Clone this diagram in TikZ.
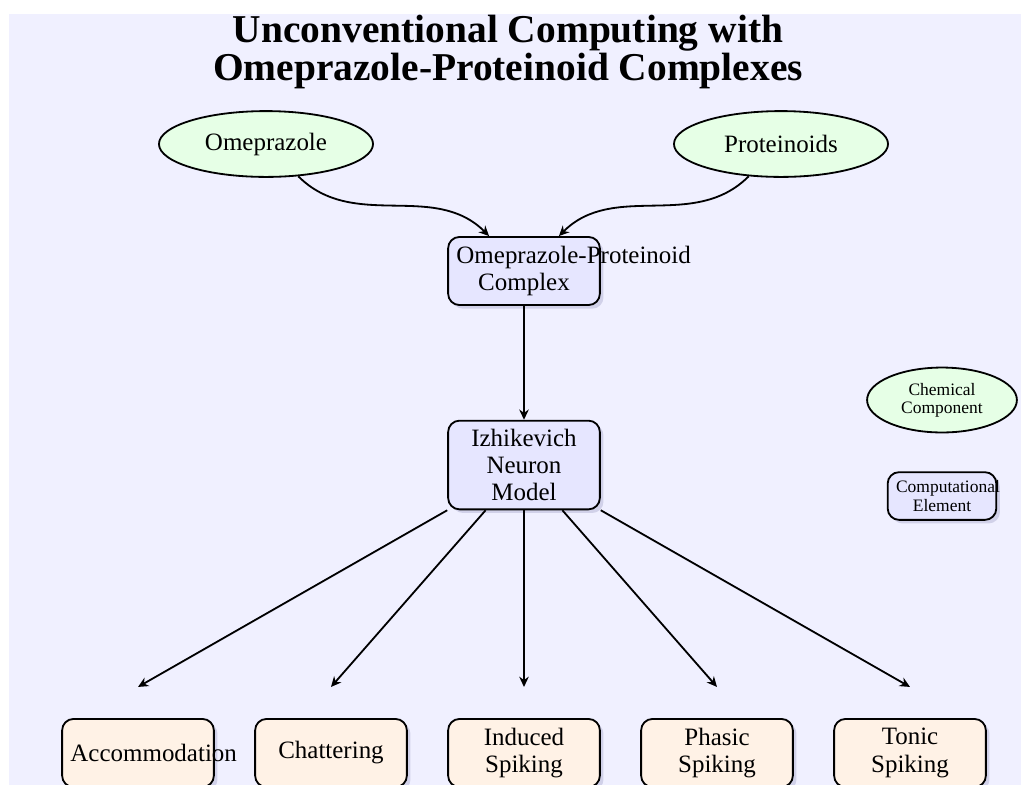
\documentclass[tikz,border=0pt]{standalone}
\usepackage{fontspec}
\setmainfont[Scale=1.1]{Liberation Serif}
\usetikzlibrary{shapes.geometric,shadows,arrows.meta,calc}
\definecolor{bgc}{RGB}{240,240,255}
\definecolor{chemfill}{RGB}{230,255,230}
\definecolor{compfill}{RGB}{230,230,255}
\definecolor{behfill}{RGB}{255,242,230}
\begin{document}
\begin{tikzpicture}[x=0.4405pt,y=0.4405pt,
  chem/.style={ellipse,draw,thick,fill=chemfill,minimum width=94.3pt,minimum height=29pt,inner sep=0pt},
  comp/.style={rectangle,rounded corners=5pt,draw,thick,fill=compfill,text width=59.5pt,align=center,minimum height=30pt,
    drop shadow={shadow xshift=1.6pt,shadow yshift=-1.6pt,opacity=0.35,fill=black!60!blue!40}},
  beh/.style={comp,fill=behfill},
  conn/.style={-{Stealth[length=4.5pt,width=4.2pt]},thick}
]
\useasboundingbox (0,0) rectangle (1021,-784);
\clip (0,0) rectangle (1021,-784);
\fill[bgc] (9,-14) rectangle (1030,-800);

\node[font=\fontsize{15.8}{16.8}\selectfont\bfseries,align=center] (title) at (508,-52) {Unconventional Computing with\\Omeprazole-Proteinoid Complexes};

\node[chem] (omep) at (266,-144) {Omeprazole};
\node[chem] (prot) at (781,-144) {Proteinoids};
\node[comp] (cplx) at (524,-271) {\mbox{Omeprazole-Proteinoid}\\Complex};
\node[comp,minimum height=37.9pt] (izh) at (524,-465) {Izhikevich\\Neuron\\Model};

\node[beh] (acc) at (138,-753) {Accommodation};
\node[beh] (chat) at (331,-753) {Chattering};
\node[beh] (ind) at (524,-753) {Induced\\Spiking};
\node[beh] (pha) at (717,-753) {Phasic\\Spiking};
\node[beh] (ton) at (910,-753) {Tonic\\Spiking};

\node[chem,font=\scriptsize,minimum width=66pt,minimum height=28.6pt,align=center] (legchem) at (942,-400) {Chemical\\Component};
\node[comp,font=\scriptsize,text width=40.5pt,minimum height=21pt] (legcomp) at (942,-496) {Computational\\Element};

\draw[conn] (omep) to[out=-45,in=135] (cplx);
\draw[conn] (prot) to[out=-135,in=45] (cplx);
\draw[conn] (cplx) -- (izh);
\draw[conn] (izh.south west) -- ([yshift=13.7pt]acc.north);
\draw[conn] ($(izh.south west)!0.25!(izh.south east)$) -- ([yshift=13.7pt]chat.north);
\draw[conn] (izh.south) -- ([yshift=13.7pt]ind.north);
\draw[conn] ($(izh.south west)!0.75!(izh.south east)$) -- ([yshift=13.7pt]pha.north);
\draw[conn] (izh.south east) -- ([yshift=13.7pt]ton.north);
\end{tikzpicture}
\end{document}
